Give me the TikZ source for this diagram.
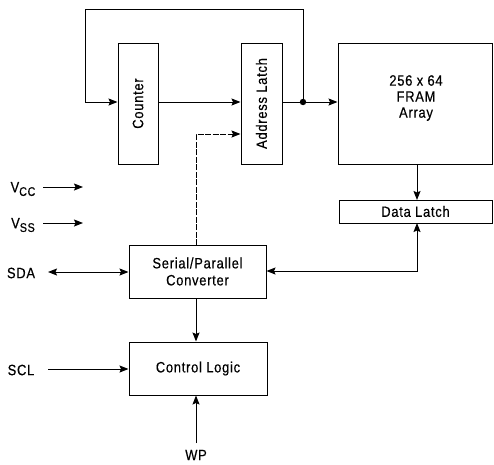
\documentclass[tikz,border=0pt]{standalone}
\usepackage{fontspec}
\setmainfont[FakeStretch=0.86,LetterSpace=5,FakeBold=0.4]{Liberation Sans}
\usetikzlibrary{arrows.meta}
\begin{document}
\begin{tikzpicture}[x=1pt,y=-1pt,
  every node/.style={font=\fontsize{15}{16}\selectfont},
  blk/.style={draw,line width=1pt,inner sep=0pt,align=center},
  wire/.style={line width=1pt},
  arr/.style={wire,-{Stealth[length=9pt,width=7pt,inset=1.5pt]}},
  darr/.style={wire,{Stealth[length=9pt,width=7pt,inset=1.5pt]}-{Stealth[length=9pt,width=7pt,inset=1.5pt]}},
  lbl/.style={inner sep=0pt}]
\useasboundingbox (0,0) rectangle (494,464);
% blocks
\node[blk,minimum width=40pt,minimum height=121pt] (counter) at (138,103.5) {};
\node[rotate=90] (countertext) at (138,103.5) {Counter};
\node[blk,minimum width=41pt,minimum height=121pt] (addr) at (261.5,103.5) {};
\node[rotate=90] (addrtext) at (261.5,103.5) {Address Latch};
\node[blk,minimum width=154pt,minimum height=121pt] (fram) at (415,103.5) {};
\node[align=center,font=\fontsize{15}{16}\selectfont] (framtext) at (416,98) {256 x 64\\FRAM\\Array};
\node[blk,minimum width=153pt,minimum height=23pt] (dl) at (415.5,211.5) {Data Latch};
\node[blk,minimum width=137pt,minimum height=53pt,font=\fontsize{15}{17}\selectfont] (sp) at (197.5,271.5) {Serial/Parallel\\Converter};
\node[blk,minimum width=138pt,minimum height=53pt] (ctrl) at (198,368.5) {Control Logic};
% pins
\node[lbl] (vcc) at (23,189) {V\raisebox{-0.45ex}{\fontsize{12.5}{12}\selectfont CC}};
\node[lbl] (vss) at (23,225) {V\raisebox{-0.45ex}{\fontsize{12.5}{12}\selectfont SS}};
\node[lbl] (sda) at (21,273) {SDA};
\node[lbl] (scl) at (21,370) {SCL};
\node[lbl] (wp) at (196,455) {WP};
\coordinate (vccs) at (43,187);
\coordinate (vcce) at (83,187);
\coordinate (vsss) at (43,223);
\coordinate (vsse) at (83,223);
\coordinate (sdas) at (48,272);
\coordinate (scls) at (48,369);
\coordinate (wps) at (196,443);
\coordinate (jn) at (303,102);
% connectors
\draw[arr] (vccs) -- (vcce);
\draw[arr] (vsss) -- (vsse);
\draw[darr] (sdas) -- (sdas -| sp.west);
\draw[arr] (scls) -- (scls -| ctrl.west);
\draw[arr] (wps) -- (wps |- ctrl.south);
\draw[arr] (sp.south -| wps) -- (wps |- ctrl.north);
\draw[arr] (counter.east |- jn) -- (addr.west |- jn);
\draw[arr] (addr.east |- jn) -- (fram.west |- jn);
\fill (jn) circle (3.2pt);
\draw[arr] (jn) -- (303,9) -- (85,9) -- (85,102) -- (counter.west |- jn);
\draw[arr] (417,164) -- (417,200);
\draw[darr] (sp.east |- 271,271) -- (417,271) -- (417,223);
\draw[arr,dash pattern=on 6pt off 1.5pt] (196,245) -- (196,134) -- (addr.west |- 196,134);
\end{tikzpicture}
\end{document}
